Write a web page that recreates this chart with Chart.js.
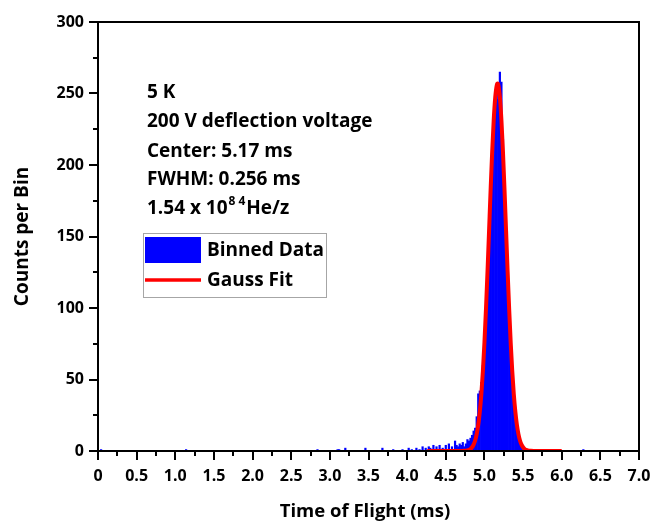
<!DOCTYPE html>
<html>
<head>
<meta charset="utf-8">
<script src="https://cdn.jsdelivr.net/npm/chart.js@4.4.1/dist/chart.umd.min.js"></script>
<style>
  html, body { margin: 0; padding: 0; background: #fff; }
</style>
</head>
<body>
<canvas id="tofChart" width="654" height="521"></canvas>
<script>
// BINNED DATA (bin centres in ms, 0.02 ms bins, empty bins left out)
const binTimes = [
  0.04, 1.14, 2.84, 3.10, 3.12, 3.20, 3.46, 3.68, 3.82, 3.94,
  4.02, 4.06, 4.12, 4.16, 4.20, 4.24, 4.28, 4.30, 4.34, 4.38,
  4.42, 4.46, 4.50, 4.54, 4.58, 4.62, 4.64, 4.66, 4.68, 4.70,
  4.72, 4.74, 4.76, 4.78, 4.80, 4.82, 4.84, 4.86, 4.88, 4.90,
  4.92, 4.94, 4.96, 4.98, 5.00, 5.02, 5.04, 5.06, 5.08, 5.10,
  5.12, 5.14, 5.16, 5.18, 5.20, 5.22, 5.24, 5.26, 5.28, 5.30,
  5.32, 5.34, 5.36, 5.38, 5.40, 5.42, 5.44, 5.46, 5.48, 5.50,
  5.52, 6.28
];
const binCounts = [
  1, 1, 1, 1, 1, 2, 2, 2, 1, 1,
  2, 1, 2, 1, 3, 2, 3, 2, 4, 3,
  4, 2, 4, 5, 3, 7, 4, 3, 5, 4,
  6, 3, 5, 8, 7, 9, 11, 14, 16, 24,
  40, 42, 48, 60, 78, 100, 128, 152, 180, 205,
  228, 242, 252, 246, 265, 258, 218, 182, 150, 122,
  96, 72, 52, 36, 25, 17, 11, 7, 4, 2,
  1, 1
];

// GAUSS FIT curve
const fitTimes = [
  4.26, 4.40, 4.60, 4.70, 4.74, 4.76, 4.78, 4.80, 4.82, 4.84,
  4.86, 4.88, 4.90, 4.92, 4.94, 4.96, 4.98, 5.00, 5.02, 5.04,
  5.06, 5.08, 5.10, 5.12, 5.14, 5.16, 5.17, 5.18, 5.20, 5.22,
  5.24, 5.26, 5.28, 5.30, 5.32, 5.34, 5.36, 5.38, 5.40, 5.42,
  5.44, 5.46, 5.48, 5.50, 5.52, 5.54, 5.56, 5.58, 5.60, 5.64,
  5.80, 6.00
];
const fitCounts = [
  0, 0, 0, 0, 0.1, 0.2, 0.4, 0.8, 1.4, 2.6,
  4.4, 7.3, 11.8, 18.3, 27.4, 39.8, 55.8, 75.7, 99.2, 125.7,
  154, 182.4, 208.9, 231.2, 247.4, 255.9, 257, 255.9, 247.4, 231.2,
  208.9, 182.4, 154, 125.7, 99.2, 75.7, 55.8, 39.8, 27.4, 18.3,
  11.8, 7.3, 4.4, 2.6, 1.4, 0.8, 0.4, 0.2, 0.1, 0,
  0, 0
];

const infoLines = ["5 K", "200 V deflection voltage", "Center: 5.17 ms", "FWHM: 0.256 ms"];
const FONT = "'Open Sans', sans-serif";

// frame on top/right, major + minor ticks, axis titles, text block and legend
const decorPlugin = {
  id: "decor",
  afterDraw(chart) {
    const { ctx, chartArea: a, scales: { x, y } } = chart;
    ctx.save();
    ctx.strokeStyle = "#000";
    ctx.lineWidth = 2;
    ctx.beginPath();
    ctx.moveTo(a.left, a.top);
    ctx.lineTo(a.right, a.top);
    ctx.lineTo(a.right, a.bottom);
    ctx.moveTo(a.left - 1, a.bottom);
    ctx.lineTo(a.right, a.bottom);
    ctx.stroke();

    // x ticks (major every 0.5, minor in between)
    for (let i = 0; i <= 28; i++) {
      const px = Math.round(x.getPixelForValue(i * 0.25));
      const len = i % 2 === 0 ? 9 : 5;
      ctx.beginPath();
      ctx.moveTo(px, a.bottom);
      ctx.lineTo(px, a.bottom + len);
      ctx.stroke();
    }
    // y ticks (major every 50, minor in between)
    for (let i = 0; i <= 12; i++) {
      const py = Math.round(y.getPixelForValue(i * 25));
      const len = i % 2 === 0 ? 9 : 5;
      ctx.beginPath();
      ctx.moveTo(a.left, py);
      ctx.lineTo(a.left - len, py);
      ctx.stroke();
    }

    ctx.fillStyle = "#000";
    // axis titles
    ctx.font = "bold 18.5px " + FONT;
    ctx.textAlign = "center";
    ctx.textBaseline = "alphabetic";
    ctx.fillText("Time of Flight (ms)", 365, 517);
    ctx.save();
    ctx.translate(23, (a.top + a.bottom) / 2);
    ctx.rotate(-Math.PI / 2);
    ctx.font = "bold 19px " + FONT;
    ctx.textBaseline = "middle";
    ctx.fillText("Counts per Bin", 0, 0);
    ctx.restore();

    // text block
    ctx.textBaseline = "middle";
    ctx.textAlign = "left";
    ctx.font = "bold 19px " + FONT;
    const tx = 147;
    const rows = [93, 122, 151.5, 180, 208.5];
    infoLines.forEach((t, i) => ctx.fillText(t, tx, rows[i]));
    const ly = rows[4];
    let cx = tx;
    ctx.fillText("1.54 x 10", cx, ly);
    cx += ctx.measureText("1.54 x 10").width;
    ctx.font = "bold 12px " + FONT;
    ctx.fillText("8", cx + 1, ly - 7);
    cx += ctx.measureText("8").width + 4;
    ctx.fillText("4", cx, ly - 7);
    cx += ctx.measureText("4").width + 1;
    ctx.font = "bold 19px " + FONT;
    ctx.fillText("He/z", cx, ly);

    // legend
    ctx.strokeStyle = "#a6a6a6";
    ctx.lineWidth = 1;
    ctx.strokeRect(143.5, 233.5, 183, 64);
    ctx.fillStyle = "#0000ff";
    ctx.fillRect(145, 237, 56, 26);
    ctx.strokeStyle = "#ff0000";
    ctx.lineWidth = 3.5;
    ctx.beginPath();
    ctx.moveTo(145, 280);
    ctx.lineTo(201, 280);
    ctx.stroke();
    ctx.fillStyle = "#000";
    ctx.font = "bold 19px " + FONT;
    ctx.fillText("Binned Data", 207, 251);
    ctx.fillText("Gauss Fit", 207, 280.5);
    ctx.restore();
  }
};

const ctx = document.getElementById("tofChart");

new Chart(ctx, {
  type: "bar",
  data: {
    datasets: [
      {
        type: "line",
        label: "Gauss Fit",
        data: fitTimes.map((t, i) => ({ x: t, y: fitCounts[i] })),
        borderColor: "#ff0000",
        borderWidth: 4,
        pointRadius: 0,
        cubicInterpolationMode: "monotone",
        fill: false,
        order: 0
      },
      {
        label: "Binned Data",
        data: binTimes.map((t, i) => ({ x: t, y: binCounts[i] })),
        backgroundColor: "#0000ff",
        borderWidth: 0,
        barPercentage: 1,
        categoryPercentage: 1,
        order: 1
      }
    ]
  },
  options: {
    responsive: false,
    animation: false,
    layout: { padding: { top: 22, right: 15, left: 0, bottom: 0 } },
    plugins: {
      legend: { display: false },
      tooltip: { enabled: false }
    },
    scales: {
      x: {
        type: "linear",
        offset: false,
        min: 0,
        max: 7,
        grid: { display: true, drawOnChartArea: false, drawTicks: false },
        border: { display: false },
        ticks: {
          stepSize: 0.5,
          autoSkip: false,
          maxRotation: 0,
          padding: 16,
          color: "#000",
          font: { family: FONT, size: 16, weight: "bold" },
          callback: v => (v === 0 ? "0" : v.toFixed(1))
        },
        afterFit: s => {
          s.height = 70;
          s.paddingLeft = 0;
          s.paddingRight = 0;
        }
      },
      y: {
        min: 0,
        max: 300,
        grid: { display: true, drawOnChartArea: false, drawTicks: false },
        border: { display: true, color: "#000", width: 2 },
        ticks: {
          stepSize: 50,
          padding: 14,
          color: "#000",
          font: { family: FONT, size: 16, weight: "bold" }
        },
        afterFit: s => {
          s.width = 98;
          s.paddingTop = 0;
          s.paddingBottom = 0;
        }
      }
    }
  },
  plugins: [decorPlugin]
});
</script>
</body>
</html>
